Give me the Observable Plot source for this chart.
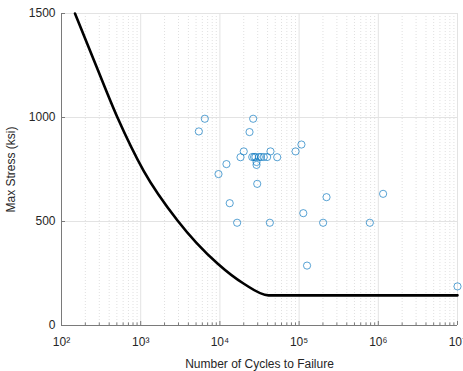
<!DOCTYPE html>
<html>
<head>
<meta charset="utf-8">
<script src="https://cdn.jsdelivr.net/npm/d3@7"></script>
<script src="https://cdn.jsdelivr.net/npm/@observablehq/plot@0.6"></script>
<style>
  html, body { margin: 0; padding: 0; background: #fff; }
</style>
</head>
<body>
<div id="chart"></div>
<script>
// S-N curve
const curveCycles = [148, 273, 509, 1085, 2915, 9327, 19860, 41080, 1e7];
const curveStress = [1500, 1250, 1000, 745, 505, 298, 202, 145, 145];

// test points
const testCycles = [6450, 5420, 26300, 23660, 18200, 20000, 25600, 27000, 28100, 31000, 33000, 35800, 39500, 43500, 52900, 29000, 29000, 90200, 107000, 12100, 9600, 29600, 13300, 222000, 1150000, 16500, 42700, 113000, 201000, 782000, 126000, 1e7];
const testStress = [994, 933, 994, 930, 809, 837, 810, 810, 810, 810, 810, 810, 810, 837, 809, 786, 772, 837, 870, 776, 728, 681, 588, 617, 633, 494, 494, 540, 494, 494, 288, 188];

// ticks
const xMajor = [1e2, 1e3, 1e4, 1e5, 1e6, 1e7];
const xMajorLabels = ["10²", "10³", "10⁴", "10⁵", "10⁶", "10⁷"];
const xMinorMult = [2, 3, 4, 5, 6, 7, 8, 9];
const yTicks = [0, 500, 1000, 1500];

const xMinor = [];
for (const m of xMajor.slice(0, -1)) for (const k of xMinorMult) xMinor.push(m * k);

const curve = curveCycles.map((c, i) => ({c, s: curveStress[i]}));
const tests = testCycles.map((c, i) => ({c, s: testStress[i]}));
const labelOf = new Map(xMajor.map((v, i) => [v, xMajorLabels[i]]));

const chart = Plot.plot({
  width: 463,
  height: 371,
  marginLeft: 61,
  marginRight: 6,
  marginTop: 13,
  marginBottom: 46,
  style: {fontFamily: "'Liberation Sans', Arial, sans-serif", fontSize: "12px", background: "#fff", overflow: "visible"},
  x: {type: "log", domain: [100, 1e7], axis: null},
  y: {domain: [0, 1500], axis: null},
  marks: [
    Plot.ruleX(xMinor, {stroke: "#e0e0e0", strokeDasharray: "1,2", strokeWidth: 1}),
    Plot.ruleX(xMajor, {stroke: "#e3e3e3", strokeWidth: 1}),
    Plot.ruleY(yTicks, {stroke: "#e3e3e3", strokeWidth: 1}),
    // axis lines
    Plot.ruleX([100], {stroke: "#7a7a7a", strokeWidth: 1}),
    Plot.ruleY([0], {stroke: "#7a7a7a", strokeWidth: 1}),
    // inward ticks
    Plot.axisX({ticks: xMajor, tickSize: -4, fill: "none", stroke: "#7a7a7a"}),
    Plot.axisX({ticks: xMinor, tickSize: -2.5, fill: "none", stroke: "#7a7a7a"}),
    Plot.axisY({ticks: yTicks, tickSize: -4, fill: "none", stroke: "#7a7a7a"}),
    // labels
    Plot.axisX({
      ticks: xMajor, tickSize: 0, tickPadding: 12,
      tickFormat: d => labelOf.get(d), fill: "#262626", fontSize: 12,
      label: "Number of Cycles to Failure", labelAnchor: "center", labelOffset: 42, labelArrow: "none"
    }),
    Plot.axisY({
      ticks: yTicks, tickSize: 0, tickPadding: 6, tickFormat: d => String(d),
      fill: "#262626", fontSize: 12,
      label: "Max Stress (ksi)", labelAnchor: "center", labelOffset: 55, labelArrow: "none"
    }),
    Plot.line(curve, {x: "c", y: "s", stroke: "#000", strokeWidth: 2.6, curve: "monotone-x"}),
    Plot.dot(tests, {x: "c", y: "s", r: 3.6, stroke: "#0072BD", strokeOpacity: 0.65, strokeWidth: 1, fill: "none"})
  ]
});
document.getElementById("chart").appendChild(chart);
</script>
</body>
</html>
